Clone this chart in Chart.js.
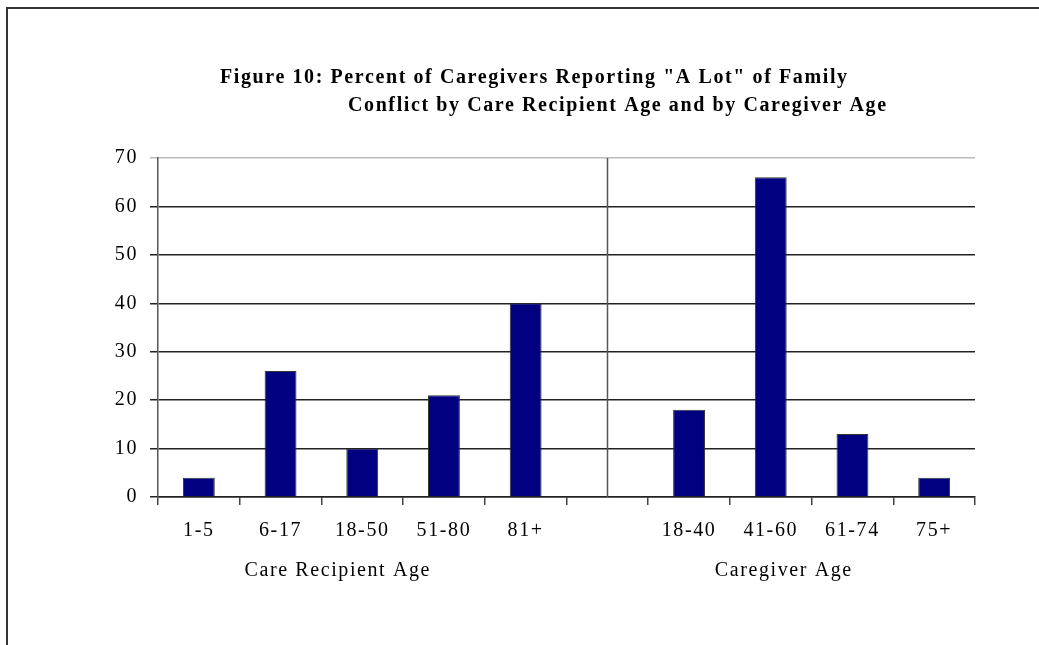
<!DOCTYPE html>
<html>
<head>
<meta charset="utf-8">
<script src="https://cdn.jsdelivr.net/npm/chart.js@4.4.0/dist/chart.umd.min.js"></script>
<style>
  html, body { margin: 0; padding: 0; background: #fff; overflow: hidden; }
  #wrap { width: 1039px; height: 645px; position: relative; }
</style>
</head>
<body>
<div id="wrap"><canvas id="grafico" width="1039" height="645"></canvas></div>
<script>
// Datos del grafico
const categorias = ['1-5', '6-17', '18-50', '51-80', '81+', '', '18-40', '41-60', '61-74', '75+'];
const porcentajes = [4, 26, 10, 21, 40, null, 18, 66, 13, 4];
const ticksY = [0, 10, 20, 30, 40, 50, 60, 70];
const tituloLineas = ['Figure 10: Percent of Caregivers Reporting "A Lot" of Family',
                      'Conflict by Care Recipient Age and by Caregiver Age'];
const grupos = [
  { texto: 'Care Recipient Age', pos: 1.7 },
  { texto: 'Caregiver Age', pos: 7.16 }
];
const separador = 5; // indice de la categoria vacia

const fuente = "'Liberation Serif', 'Times New Roman', serif";
const espaciado = '1.6px'; // el texto del original es mas ancho

// Plugin para marco, titulo, separador y etiquetas de grupo
const extras = {
  id: 'extras',
  beforeDraw(chart) {
    const ctx = chart.ctx;
    ctx.save();
    ctx.fillStyle = '#fff';
    ctx.fillRect(0, 0, chart.width, chart.height);
    ctx.strokeStyle = '#333';
    ctx.lineWidth = 2;
    ctx.strokeRect(7, 8, 2000, 2000);
    ctx.restore();
    // espaciado de letras para todo el texto del grafico
    ctx.letterSpacing = espaciado;
  },
  afterDatasetsDraw(chart) {
    const ctx = chart.ctx;
    const x = chart.scales.x;
    const area = chart.chartArea;
    ctx.save();
    // linea separadora
    const sx = Math.round(x.getPixelForValue(separador)) + 0.5;
    ctx.strokeStyle = '#555';
    ctx.lineWidth = 1.5;
    ctx.beginPath();
    ctx.moveTo(sx, area.top);
    ctx.lineTo(sx, area.bottom);
    ctx.stroke();

    // titulo
    ctx.letterSpacing = espaciado;
    ctx.fillStyle = '#000';
    ctx.font = 'bold 20px ' + fuente;
    ctx.textBaseline = 'middle';
    ctx.textAlign = 'left';
    ctx.fillText(tituloLineas[0], 220, 78);
    ctx.fillText(tituloLineas[1], 348, 106);

    // etiquetas de grupo
    ctx.font = '20px ' + fuente;
    ctx.textAlign = 'center';
    grupos.forEach(g => {
      ctx.fillText(g.texto, x.getPixelForValue(g.pos), 571);
    });
    ctx.restore();
  }
};

new Chart(document.getElementById('grafico'), {
  type: 'bar',
  data: {
    labels: categorias,
    datasets: [{
      data: porcentajes,
      backgroundColor: '#000080',
      borderColor: '#333',
      borderWidth: 1,
      categoryPercentage: 1,
      barPercentage: 0.39
    }]
  },
  options: {
    responsive: false,
    maintainAspectRatio: false,
    animation: false,
    devicePixelRatio: 1,
    layout: { padding: { top: 158, right: 64, left: 0, bottom: 0 } },
    plugins: {
      legend: { display: false },
      tooltip: { enabled: false }
    },
    scales: {
      x: {
        offset: true,
        afterFit(scale) { scale.height = 148; },
        grid: {
          offset: true,
          drawOnChartArea: false,
          drawTicks: true,
          tickLength: 8,
          color: '#444',
          lineWidth: 1.5
        },
        border: { color: '#222', width: 1.5 },
        ticks: {
          color: '#000',
          padding: 14,
          maxRotation: 0,
          autoSkip: false,
          font: { family: fuente, size: 20 }
        }
      },
      y: {
        min: 0,
        max: 70,
        afterFit(scale) { scale.width = 158; },
        afterBuildTicks(scale) { scale.ticks = ticksY.map(v => ({ value: v })); },
        grid: {
          color: ctx => ctx.tick && ctx.tick.value === 70 ? '#bbb' : '#222',
          lineWidth: 1.5,
          tickLength: 8
        },
        border: { color: '#555', width: 1.5 },
        ticks: {
          color: '#000',
          padding: 12,
          font: { family: fuente, size: 20 }
        }
      }
    }
  },
  plugins: [extras]
});
</script>
</body>
</html>
